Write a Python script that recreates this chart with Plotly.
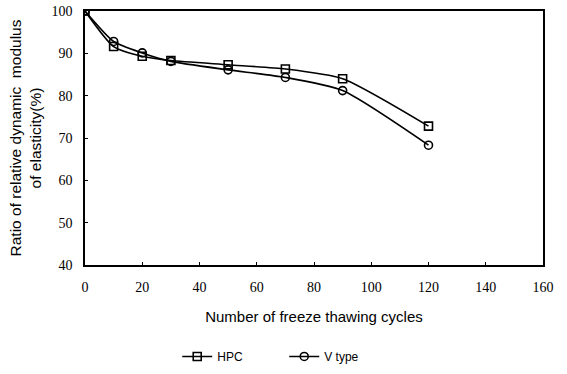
import plotly.graph_objects as go

cycles = [0, 10, 20, 30, 50, 70, 90, 120]
hpc = [100, 91.6, 89.3, 88.3, 87.3, 86.3, 84.0, 72.8]
vtype = [100, 92.8, 90.1, 88.1, 86.1, 84.3, 81.2, 68.3]

fig = go.Figure()
fig.add_trace(go.Scatter(x=cycles, y=hpc, name="HPC", mode="lines+markers",
                         line=dict(color="black", width=1.6, shape="spline", smoothing=0.6),
                         marker=dict(symbol="square-open", size=8, color="black", line=dict(width=1.6))))
fig.add_trace(go.Scatter(x=cycles, y=vtype, name="V type", mode="lines+markers",
                         line=dict(color="black", width=1.6, shape="spline", smoothing=0.6),
                         marker=dict(symbol="circle-open", size=8, color="black", line=dict(width=1.6))))

fig.update_layout(
    width=567, height=374,
    margin=dict(l=85, r=24, t=11, b=109, autoexpand=False),
    paper_bgcolor="white", plot_bgcolor="white",
    showlegend=True,
    legend=dict(orientation="h", x=0.435, xanchor="center", y=-0.36, yanchor="middle",
                font=dict(family="Liberation Sans", size=12, color="black"),
                entrywidthmode="pixels", entrywidth=62),
    xaxis=dict(range=[0, 160], dtick=20, showgrid=False, zeroline=False,
               showline=True, linecolor="black", linewidth=1.5, mirror=True,
               ticks="inside", ticklen=3, tickcolor="black", ticklabelstandoff=8,
               tickfont=dict(family="Liberation Serif", size=14, color="black"),
               title=dict(text="Number of freeze thawing cycles", standoff=18,
                          font=dict(family="Liberation Sans", size=15, color="black"))),
    yaxis=dict(range=[40, 100], dtick=10, showgrid=False, zeroline=False,
               showline=True, linecolor="black", linewidth=1.5, mirror=True,
               ticks="inside", ticklen=3, tickcolor="black", ticklabelstandoff=8,
               tickfont=dict(family="Liberation Serif", size=14, color="black"),
               title=dict(text="Ratio of relative dynamic  modulus<br>of elasticity(%)", standoff=6,
                          font=dict(family="Liberation Sans", size=15.5, color="black"))),
)

fig.write_html("out.html")
